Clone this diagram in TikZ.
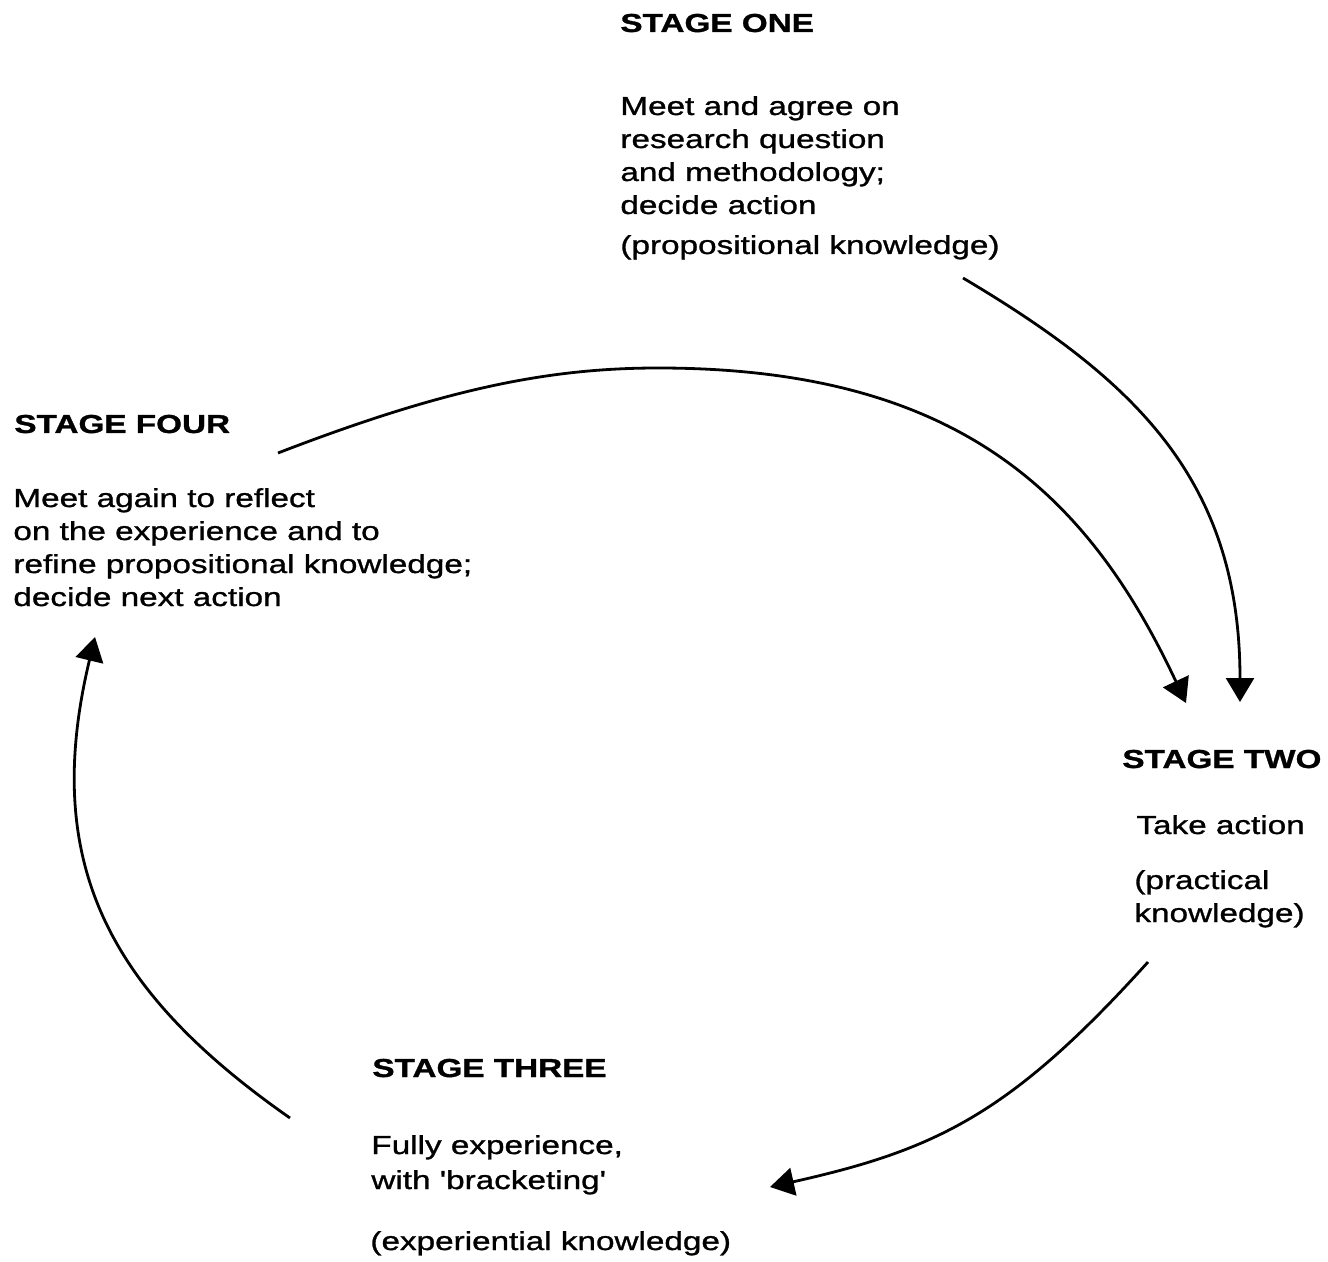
\documentclass[tikz,border=0pt]{standalone}
\usepackage{fontspec}
\setmainfont{Liberation Sans}[FakeStretch=1.28, FakeBold=1.1, Ligatures=TeXOff]
\usetikzlibrary{arrows.meta}
\begin{document}
\begin{tikzpicture}[x=0.5pt,y=-0.5pt,
  head/.style={anchor=base west, inner sep=0pt, font=\fontsize{13}{16.5}\selectfont\bfseries},
  body/.style={anchor=base west, inner sep=0pt, align=left, font=\fontsize{13}{16.5}\selectfont},
  conn/.style={line width=1.4pt, -{Triangle[length=12pt,width=14pt]}}]
\useasboundingbox (0,0) rectangle (1328,1262);
\fill[white] (0,0) rectangle (1328,1262);

% Stage one (multi-line nodes: base anchor = last line baseline)
\node[head] (h1) at (620,32) {STAGE ONE};
\node[body] (b1) at (620,254) {Meet and agree on\\research question\\and methodology;\\decide action\\[3.5pt](propositional knowledge)};

% Stage four
\node[head] (h4) at (14,433) {STAGE FOUR};
\node[body] (b4) at (13,606) {Meet again to reflect\\on the experience and to\\refine propositional knowledge;\\decide next action};

% Stage two
\node[head] (h2) at (1122,768) {STAGE TWO};
\node[body] (b2a) at (1136,834) {Take action};
\node[body] (b2b) at (1134,922) {(practical\\knowledge)};

% Stage three
\node[head] (h3) at (372,1077) {STAGE THREE};
\node[body, font=\fontsize{13}{17.5}\selectfont] (b3a) at (371,1189) {Fully experience,\\with 'bracketing'};
\node[body] (b3b) at (370,1250) {(experiential knowledge)};

% connector end points
\coordinate (a1s) at (963,278);
\coordinate (a1e) at (1240,702);
\coordinate (a2s) at (278,453);
\coordinate (a2m) at (658,368);
\coordinate (a2e) at (1186,703);
\coordinate (a3s) at (1148,962);
\coordinate (a3e) at (770,1187);
\coordinate (a4s) at (290,1118);
\coordinate (a4e) at (95,637);

\draw[conn] (a1s) .. controls (1135,380) and (1240,480) .. (a1e);
\draw[conn] (a2s) .. controls (444,389) and (548,368) .. (a2m)
                 .. controls (958,368) and (1088,494) .. (a2e);
\draw[conn] (a3s) .. controls (1010,1115) and (935,1150) .. (a3e);
\draw[conn] (a4s) .. controls (107.5,990.5) and (41,862) .. (a4e);
\end{tikzpicture}
\end{document}
